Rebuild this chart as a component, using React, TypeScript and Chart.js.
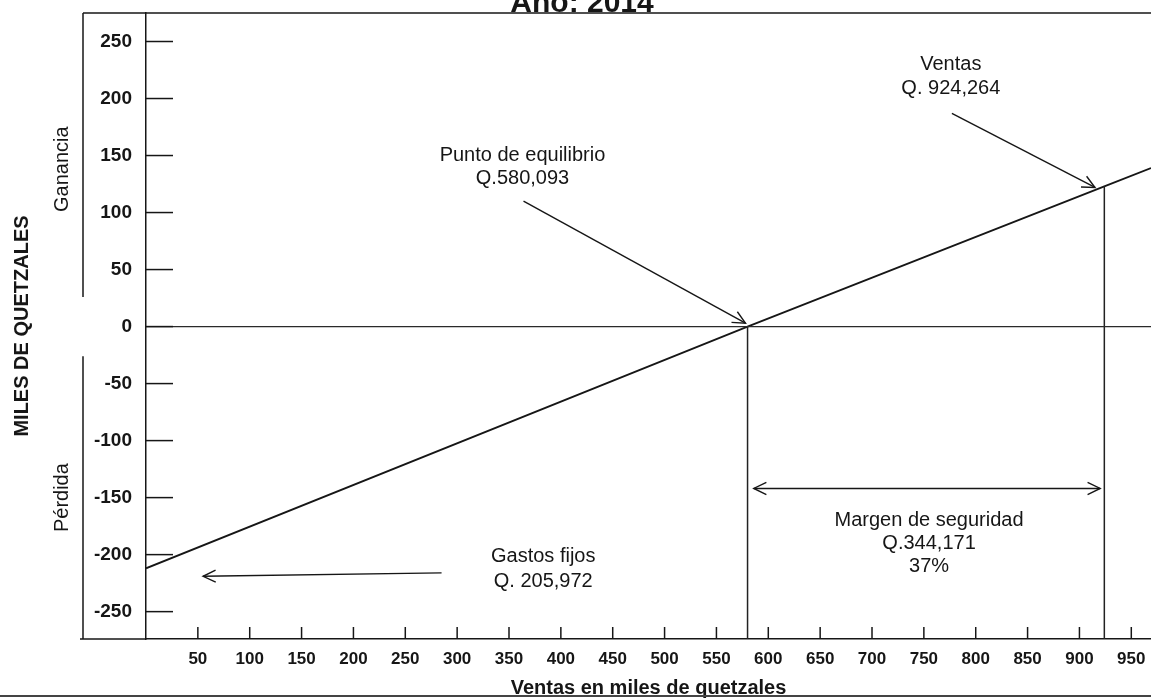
import React, { useEffect, useRef } from "react";
import { Chart, registerables } from "chart.js";

Chart.register(...registerables);

// ---- data ----
const salesX = [0, 580, 924, 969];
const profitY = [-212, 0, 123, 139];
const breakEvenSales = 580;
const actualSales = 924;
const actualProfit = 123;
const xTickValues = [50, 100, 150, 200, 250, 300, 350, 400, 450, 500, 550, 600, 650, 700, 750, 800, 850, 900, 950];
const yTickValues = [-250, -200, -150, -100, -50, 0, 50, 100, 150, 200, 250];
const xMin = 0;
const xMax = 969;
const yMin = -274;
const yMax = 275;

const title = "Año: 2014";
const xTitle = "Ventas en miles de quetzales";
const yTitle = "MILES DE QUETZALES";

// annotations (data coordinates)
const arrows = [
  { from: [364, 110], to: [578, 3], both: false },
  { from: [777, 187], to: [915, 122], both: false },
  { from: [285, -216], to: [55, -219], both: false },
  { from: [586, -142], to: [920, -142], both: true },
];
const notes = [
  { at: [363, 150], lines: ["Punto de equilibrio", "Q.580,093"], gap: 23 },
  { at: [776, 230], lines: ["Ventas", "Q. 924,264"], gap: 24 },
  { at: [755, -170.5], lines: ["Margen de seguridad", "Q.344,171", "37%"], gap: 23 },
  { at: [383, -202], lines: ["Gastos fijos", "Q. 205,972"], gap: 25 },
];

const INK = "#161616";
const FONT = "'Liberation Sans', Arial, sans-serif";

function seg(ctx: CanvasRenderingContext2D, x1: number, y1: number, x2: number, y2: number) {
  ctx.beginPath();
  ctx.moveTo(x1, y1);
  ctx.lineTo(x2, y2);
  ctx.stroke();
}

function head(ctx: CanvasRenderingContext2D, fx: number, fy: number, tx: number, ty: number) {
  const a = Math.atan2(ty - fy, tx - fx);
  const len = 14;
  const spread = 0.45;
  ctx.beginPath();
  ctx.moveTo(tx - len * Math.cos(a - spread), ty - len * Math.sin(a - spread));
  ctx.lineTo(tx, ty);
  ctx.lineTo(tx - len * Math.cos(a + spread), ty - len * Math.sin(a + spread));
  ctx.stroke();
}

const zeroPadding = (s: any) => {
  s.paddingTop = 0;
  s.paddingBottom = 0;
  s.paddingLeft = 0;
  s.paddingRight = 0;
};

const decorPlugin = {
  id: "decor",
  afterDraw(chart: any) {
    const { ctx, chartArea: ca, scales } = chart;
    const X = (v: number) => scales.x.getPixelForValue(v);
    const Y = (v: number) => scales.y.getPixelForValue(v);
    ctx.save();
    ctx.strokeStyle = INK;
    ctx.fillStyle = INK;
    ctx.lineWidth = 1.5;
    ctx.lineCap = "butt";

    // frame lines
    seg(ctx, 83, ca.top, ca.right, ca.top);
    seg(ctx, 80, ca.bottom, ca.left, ca.bottom);
    seg(ctx, 83, ca.top, 83, Y(26));
    seg(ctx, 83, Y(-26), 83, ca.bottom);

    // inward tick marks
    yTickValues.forEach((v) => seg(ctx, ca.left, Y(v), ca.left + 27, Y(v)));
    xTickValues.forEach((v) => seg(ctx, X(v), ca.bottom, X(v), ca.bottom - 12));

    // arrows
    ctx.lineWidth = 1.4;
    arrows.forEach((a) => {
      const fx = X(a.from[0]), fy = Y(a.from[1]);
      const tx = X(a.to[0]), ty = Y(a.to[1]);
      seg(ctx, fx, fy, tx, ty);
      head(ctx, fx, fy, tx, ty);
      if (a.both) head(ctx, tx, ty, fx, fy);
    });

    // notes
    ctx.font = `20px ${FONT}`;
    ctx.textAlign = "center";
    ctx.textBaseline = "middle";
    notes.forEach((n) => {
      const cx = X(n.at[0]);
      const cy = Y(n.at[1]);
      n.lines.forEach((t, i) => ctx.fillText(t, cx, cy + i * n.gap));
    });

    // side labels
    const side = (t: string, v: number) => {
      ctx.save();
      ctx.translate(ca.left - 84, Y(v));
      ctx.rotate(-Math.PI / 2);
      ctx.fillText(t, 0, 0);
      ctx.restore();
    };
    side("Ganancia", 138);
    side("Pérdida", -150);

    // clipped title
    ctx.font = `bold 30px ${FONT}`;
    ctx.textBaseline = "alphabetic";
    ctx.fillText(title, 582, 12);

    // scan edge line
    ctx.strokeStyle = "#444";
    ctx.lineWidth = 2;
    seg(ctx, 0, 696, chart.width, 696);
    ctx.restore();
  },
};

export default function App() {
  const ref = useRef<HTMLCanvasElement>(null);
  useEffect(() => {
    if (!ref.current) return;
    const lineData = salesX.map((x, i) => ({ x, y: profitY[i] }));
    const chart = new Chart(ref.current, {
      type: "scatter",
      data: {
        datasets: [
          {
            data: [{ x: xMin, y: 0 }, { x: xMax, y: 0 }],
            showLine: true,
            borderColor: "#2a2a2a",
            borderWidth: 1.3,
            pointRadius: 0,
          },
          {
            data: [{ x: breakEvenSales, y: yMin }, { x: breakEvenSales, y: 0 }],
            showLine: true,
            borderColor: "#222",
            borderWidth: 1.5,
            pointRadius: 0,
          },
          {
            data: [{ x: actualSales, y: yMin }, { x: actualSales, y: actualProfit }],
            showLine: true,
            borderColor: "#222",
            borderWidth: 1.5,
            pointRadius: 0,
          },
          {
            data: lineData,
            showLine: true,
            borderColor: INK,
            borderWidth: 1.8,
            pointRadius: 0,
          },
        ],
      },
      options: {
        animation: false,
        responsive: false,
        devicePixelRatio: 1,
        layout: { padding: { top: 13, left: 0, right: 0, bottom: 0 } },
        plugins: { legend: { display: false }, tooltip: { enabled: false }, title: { display: false } },
        scales: {
          x: {
            type: "linear",
            position: "bottom",
            min: xMin,
            max: xMax,
            afterFit: (s: any) => { s.height = 59; zeroPadding(s); },
            afterBuildTicks: (s: any) => { s.ticks = xTickValues.map((v) => ({ value: v })); },
            grid: { display: false, drawTicks: false },
            border: { display: true, color: INK, width: 1.5 },
            ticks: { padding: 10, color: INK, autoSkip: false, maxRotation: 0, font: { family: FONT, size: 17, weight: "bold" } },
            title: { display: true, text: xTitle, color: INK, font: { family: FONT, size: 20, weight: "bold", lineHeight: 1 }, padding: { top: 0, bottom: 0 } },
          },
          y: {
            type: "linear",
            position: "left",
            min: yMin,
            max: yMax,
            afterFit: (s: any) => { s.width = 146; zeroPadding(s); },
            afterBuildTicks: (s: any) => { s.ticks = yTickValues.map((v) => ({ value: v })); },
            grid: { display: false, drawTicks: false },
            border: { display: true, color: INK, width: 1.5 },
            ticks: { padding: 14, color: INK, autoSkip: false, font: { family: FONT, size: 19, weight: "bold" } },
            title: { display: true, text: yTitle, color: INK, font: { family: FONT, size: 20, weight: "bold" }, padding: { top: 10, bottom: 0 } },
          },
        },
      },
      plugins: [decorPlugin],
    } as any);
    return () => chart.destroy();
  }, []);
  return (
    <div style={{ position: "fixed", left: 0, top: 0, width: 1151, height: 698, background: "#fff" }}>
      <canvas ref={ref} width={1151} height={698} style={{ display: "block", width: 1151, height: 698 }} />
    </div>
  );
}
